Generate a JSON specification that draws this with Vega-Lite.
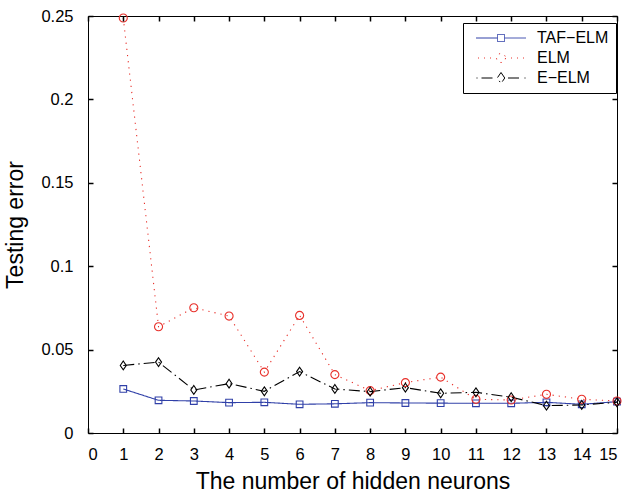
{
  "$schema": "https://vega.github.io/schema/vega-lite/v6.json",
  "width": 529,
  "height": 417,
  "autosize": {"type": "none"},
  "padding": {"left": 88, "top": 16, "right": 11, "bottom": 61},
  "background": "white",
  "config": {
    "font": "Liberation Sans",
    "view": {"stroke": "black", "strokeWidth": 1},
    "axis": {
      "grid": false,
      "domain": false,
      "labelColor": "black",
      "labelFontSize": 16.5,
      "titleColor": "black",
      "titleFontSize": 23,
      "titleFontWeight": "normal"
    },
    "legend": {
      "fillColor": "white",
      "strokeColor": "black",
      "padding": 7,
      "rowPadding": 4,
      "labelFontSize": 16,
      "labelColor": "black",
      "symbolSize": 100,
      "symbolStrokeWidth": 1,
      "symbolOpacity": 1,
      "symbolOffset": 23,
      "labelOffset": 28
    }
  },
  "data": {
    "values": [
      {"n": 1, "s": "TAF−ELM", "v": 0.0264}, {"n": 2, "s": "TAF−ELM", "v": 0.0196}, {"n": 3, "s": "TAF−ELM", "v": 0.0192},
      {"n": 4, "s": "TAF−ELM", "v": 0.0182}, {"n": 5, "s": "TAF−ELM", "v": 0.0184}, {"n": 6, "s": "TAF−ELM", "v": 0.0172},
      {"n": 7, "s": "TAF−ELM", "v": 0.0175}, {"n": 8, "s": "TAF−ELM", "v": 0.0182}, {"n": 9, "s": "TAF−ELM", "v": 0.018},
      {"n": 10, "s": "TAF−ELM", "v": 0.0179}, {"n": 11, "s": "TAF−ELM", "v": 0.0178}, {"n": 12, "s": "TAF−ELM", "v": 0.0178},
      {"n": 13, "s": "TAF−ELM", "v": 0.0184}, {"n": 14, "s": "TAF−ELM", "v": 0.0172}, {"n": 15, "s": "TAF−ELM", "v": 0.0188},
      {"n": 1, "s": "ELM", "v": 0.2488}, {"n": 2, "s": "ELM", "v": 0.0637}, {"n": 3, "s": "ELM", "v": 0.0751},
      {"n": 4, "s": "ELM", "v": 0.0701}, {"n": 5, "s": "ELM", "v": 0.0365}, {"n": 6, "s": "ELM", "v": 0.0705},
      {"n": 7, "s": "ELM", "v": 0.035}, {"n": 8, "s": "ELM", "v": 0.0254}, {"n": 9, "s": "ELM", "v": 0.0302},
      {"n": 10, "s": "ELM", "v": 0.0335}, {"n": 11, "s": "ELM", "v": 0.0202}, {"n": 12, "s": "ELM", "v": 0.0198},
      {"n": 13, "s": "ELM", "v": 0.0232}, {"n": 14, "s": "ELM", "v": 0.0202}, {"n": 15, "s": "ELM", "v": 0.0192},
      {"n": 1, "s": "E−ELM", "v": 0.0405}, {"n": 2, "s": "E−ELM", "v": 0.0425}, {"n": 3, "s": "E−ELM", "v": 0.0258},
      {"n": 4, "s": "E−ELM", "v": 0.0296}, {"n": 5, "s": "E−ELM", "v": 0.025}, {"n": 6, "s": "E−ELM", "v": 0.0368},
      {"n": 7, "s": "E−ELM", "v": 0.0264}, {"n": 8, "s": "E−ELM", "v": 0.0248}, {"n": 9, "s": "E−ELM", "v": 0.0272},
      {"n": 10, "s": "E−ELM", "v": 0.0238}, {"n": 11, "s": "E−ELM", "v": 0.0244}, {"n": 12, "s": "E−ELM", "v": 0.0215},
      {"n": 13, "s": "E−ELM", "v": 0.0164}, {"n": 14, "s": "E−ELM", "v": 0.0168}, {"n": 15, "s": "E−ELM", "v": 0.0184}
    ]
  },
  "layer": [
    {
      "mark": {"type": "line", "strokeWidth": 1.1, "clip": true},
      "encoding": {
        "x": {"field": "n", "type": "quantitative", "scale": {"domain": [0, 15], "nice": false},
              "axis": {"orient": "bottom", "values": [0,1,2,3,4,5,6,7,8,9,10,11,12,13,14,15], "ticks": true, "tickSize": 5, "tickColor": "#000000", "tickWidth": 1.5, "offset": -5, "zindex": 2, "labelPadding": 13, "title": "The number of hidden neurons", "titlePadding": 8}},
        "y": {"field": "v", "type": "quantitative", "scale": {"domain": [0, 0.25], "nice": false},
              "axis": {"orient": "left", "values": [0, 0.05, 0.1, 0.15, 0.2, 0.25], "ticks": true, "tickSize": 5, "tickColor": "#000000", "tickWidth": 1.5, "offset": -5, "zindex": 2, "format": "~g", "labelPadding": 15, "title": "Testing error", "titlePadding": 13}},
        "color": {"field": "s", "type": "nominal", "scale": {"domain": ["TAF−ELM", "ELM", "E−ELM"], "range": ["#3040a8", "#e8302a", "#000000"]}},
        "strokeDash": {"field": "s", "type": "nominal", "scale": {"domain": ["TAF−ELM", "ELM", "E−ELM"], "range": [[1, 0], [1.2, 5], [11, 4, 1.5, 4]]}, "legend": null}
      }
    },
    {
      "transform": [{"filter": "datum.s === 'TAF−ELM'"}],
      "mark": {"type": "point", "shape": "square", "filled": false, "size": 45, "strokeWidth": 1.1, "opacity": 1},
      "encoding": {
        "x": {"field": "n", "type": "quantitative", "axis": null},
        "y": {"field": "v", "type": "quantitative", "axis": null},
        "color": {"field": "s", "type": "nominal"}
      }
    },
    {
      "transform": [{"filter": "datum.s === 'ELM'"}],
      "mark": {"type": "point", "shape": "circle", "filled": false, "size": 65, "strokeWidth": 1.1, "opacity": 1},
      "encoding": {
        "x": {"field": "n", "type": "quantitative", "axis": null},
        "y": {"field": "v", "type": "quantitative", "axis": null},
        "color": {"field": "s", "type": "nominal"}
      }
    },
    {
      "transform": [{"filter": "datum.s === 'E−ELM'"}],
      "mark": {"type": "point", "shape": "M0,-1.25L0.85,0L0,1.25L-0.85,0Z", "filled": false, "size": 50, "strokeWidth": 1.1, "opacity": 1},
      "encoding": {
        "x": {"field": "n", "type": "quantitative", "axis": null},
        "y": {"field": "v", "type": "quantitative", "axis": null},
        "color": {"field": "s", "type": "nominal"}
      }
    },
    {
      "mark": {"type": "point", "filled": false, "opacity": 0, "size": 100},
      "encoding": {
        "x": {"field": "n", "type": "quantitative", "axis": {"orient": "top", "values": [0,1,2,3,4,5,6,7,8,9,10,11,12,13,14,15], "ticks": true, "tickSize": 5, "tickColor": "#000000", "tickWidth": 1.5, "offset": -5, "zindex": 2, "labels": false, "title": null}},
        "y": {"field": "v", "type": "quantitative", "axis": {"orient": "right", "values": [0, 0.05, 0.1, 0.15, 0.2, 0.25], "ticks": true, "tickSize": 5, "tickColor": "#000000", "tickWidth": 1.5, "offset": -5, "zindex": 2, "labels": false, "title": null}},
        "color": {"field": "s", "type": "nominal",
                  "legend": {"title": null, "orient": "none", "legendX": 375, "legendY": 7}},
        "shape": {"field": "s", "type": "nominal",
                  "scale": {"domain": ["TAF−ELM", "ELM", "E−ELM"],
                            "range": [
                              "M-5,0H-0.7M0.7,0H5M-0.7,-0.7H0.7V0.7H-0.7Z",
                              "M-4.6,0H-4.4M-3.4,0H-3.2M-2.2,0H-2M2,0H2.2M3.2,0H3.4M4.4,0H4.6M0.9,0A0.9,0.9,0,1,1,-0.9,0A0.9,0.9,0,1,1,0.9,0Z",
                              "M-4.9,0H-4.7M-3.9,0H-1.4M1.4,0H3.9M4.7,0H4.9M0,-1.1L0.75,0L0,1.1L-0.75,0Z"
                            ]},
                  "legend": {"title": null, "orient": "none", "legendX": 375, "legendY": 7}}
      }
    }
  ],
  "resolve": {"axis": {"x": "independent", "y": "independent"}}
}
